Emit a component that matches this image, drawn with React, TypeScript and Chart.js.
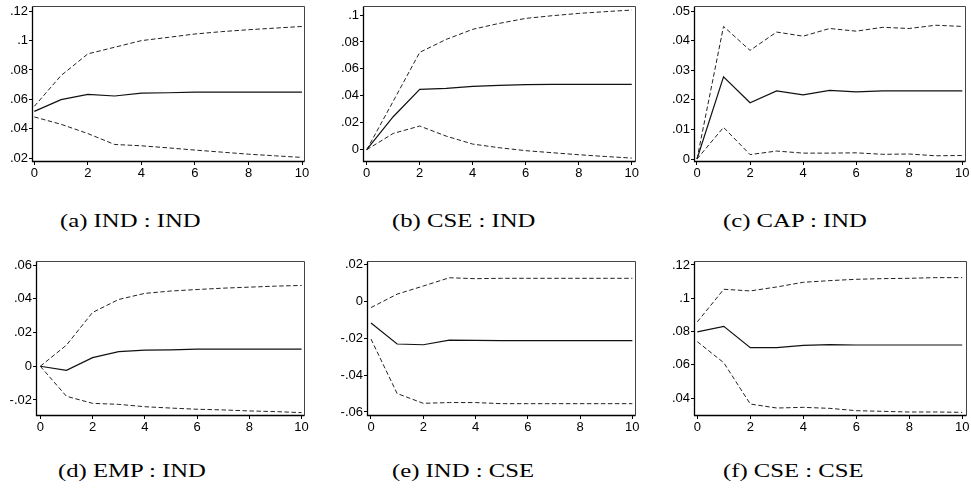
import React, { useEffect, useRef } from "react";
import { Chart, registerables } from "chart.js";

Chart.register(...registerables);

// ---------- data ----------
const horizons = [0, 1, 2, 3, 4, 5, 6, 7, 8, 9, 10];
const xTicks = [0, 2, 4, 6, 8, 10];
const xLabels = ["0", "2", "4", "6", "8", "10"];

// (a) IND : IND
const indIndIrf = [0.0519, 0.0598, 0.0634, 0.0623, 0.0643, 0.0645, 0.0649, 0.065, 0.065, 0.065, 0.065];
const indIndLower = [0.0481, 0.0431, 0.0368, 0.0294, 0.0285, 0.0271, 0.0256, 0.0242, 0.0228, 0.0217, 0.0206];
const indIndUpper = [0.0553, 0.0762, 0.0909, 0.0954, 0.0999, 0.1021, 0.1044, 0.106, 0.1073, 0.1084, 0.1095];
const indIndYTicks = [0.02, 0.04, 0.06, 0.08, 0.1, 0.12];
const indIndYLabels = [".02", ".04", ".06", ".08", ".1", ".12"];

// (b) CSE : IND
const cseIndIrf = [0, 0.0245, 0.0448, 0.0455, 0.047, 0.0478, 0.0483, 0.0485, 0.0485, 0.0485, 0.0485];
const cseIndLower = [0, 0.0121, 0.0176, 0.0101, 0.0042, 0.0015, -0.0007, -0.0022, -0.0037, -0.005, -0.0062];
const cseIndUpper = [0, 0.036, 0.0723, 0.0819, 0.0894, 0.0938, 0.0975, 0.0995, 0.1012, 0.1025, 0.1037];
const cseIndYTicks = [0, 0.02, 0.04, 0.06, 0.08, 0.1];
const cseIndYLabels = ["0", ".02", ".04", ".06", ".08", ".1"];

// (c) CAP : IND
const capIndIrf = [0, 0.0278, 0.019, 0.023, 0.0217, 0.0232, 0.0227, 0.023, 0.023, 0.023, 0.023];
const capIndLower = [0, 0.0107, 0.0015, 0.0027, 0.002, 0.002, 0.0021, 0.0016, 0.0017, 0.0011, 0.0012];
const capIndUpper = [0, 0.0448, 0.0367, 0.0429, 0.0415, 0.0441, 0.0432, 0.0445, 0.0441, 0.0452, 0.0448];
const capIndYTicks = [0, 0.01, 0.02, 0.03, 0.04, 0.05];
const capIndYLabels = ["0", ".01", ".02", ".03", ".04", ".05"];

// (d) EMP : IND
const empIndIrf = [0, -0.0024, 0.0051, 0.0087, 0.0095, 0.0097, 0.0101, 0.0101, 0.0101, 0.0101, 0.0101];
const empIndLower = [0, -0.0178, -0.022, -0.0226, -0.024, -0.0248, -0.0255, -0.0259, -0.0265, -0.0269, -0.0275];
const empIndUpper = [0, 0.0125, 0.0319, 0.0396, 0.0432, 0.0446, 0.0455, 0.0463, 0.0469, 0.0475, 0.0479];
const empIndYTicks = [-0.02, 0, 0.02, 0.04, 0.06];
const empIndYLabels = ["-.02", "0", ".02", ".04", ".06"];

// (e) IND : CSE
const indCseIrf = [-0.0117, -0.0231, -0.0235, -0.021, -0.0211, -0.0213, -0.0213, -0.0213, -0.0213, -0.0213, -0.0213];
const indCseLower = [-0.0204, -0.05, -0.0553, -0.0549, -0.0549, -0.0555, -0.0555, -0.0555, -0.0555, -0.0555, -0.0555];
const indCseUpper = [-0.0033, 0.004, 0.0084, 0.0129, 0.0124, 0.0126, 0.0126, 0.0126, 0.0126, 0.0126, 0.0126];
const indCseYTicks = [-0.06, -0.04, -0.02, 0, 0.02];
const indCseYLabels = ["-.06", "-.04", "-.02", "0", ".02"];

// (f) CSE : CSE
const cseCseIrf = [0.0798, 0.0831, 0.0703, 0.0703, 0.0717, 0.0721, 0.0719, 0.0719, 0.0719, 0.0719, 0.0719];
const cseCseLower = [0.0739, 0.0612, 0.0364, 0.034, 0.0344, 0.0338, 0.0324, 0.032, 0.0316, 0.0316, 0.0314];
const cseCseUpper = [0.0858, 0.1054, 0.1044, 0.1068, 0.1096, 0.1106, 0.1114, 0.1118, 0.112, 0.1124, 0.1124];
const cseCseYTicks = [0.04, 0.06, 0.08, 0.1, 0.12];
const cseCseYLabels = [".04", ".06", ".08", ".1", ".12"];

const captions = ["(a) IND : IND", "(b) CSE : IND", "(c) CAP : IND", "(d) EMP : IND", "(e) IND : CSE", "(f) CSE : CSE"];

// ---------- layout ----------
const PADL = 44; // y-axis width
const PADT = 10;
const PADR = 14;
const PADB = 24; // x-axis height

type PanelSpec = {
  caption: string;
  irf: number[];
  lower: number[];
  upper: number[];
  yTicks: number[];
  yLabels: string[];
  yMin: number;
  yMax: number;
  xMin: number;
  xMax: number;
  rect: { left: number; top: number; right: number; bottom: number };
  capX: number;
  capY: number;
};

const panels: PanelSpec[] = [
  { caption: captions[0], irf: indIndIrf, lower: indIndLower, upper: indIndUpper, yTicks: indIndYTicks, yLabels: indIndYLabels,
    yMin: 0.0175, yMax: 0.1234, xMin: -0.086, xMax: 10.11, rect: { left: 32, top: 6, right: 305, bottom: 162 }, capX: 60, capY: 211 },
  { caption: captions[1], irf: cseIndIrf, lower: cseIndLower, upper: cseIndUpper, yTicks: cseIndYTicks, yLabels: cseIndYLabels,
    yMin: -0.0091, yMax: 0.1067, xMin: -0.14, xMax: 10.16, rect: { left: 363, top: 6, right: 636, bottom: 162 }, capX: 392, capY: 211 },
  { caption: captions[2], irf: capIndIrf, lower: capIndLower, upper: capIndUpper, yTicks: capIndYTicks, yLabels: capIndYLabels,
    yMin: -0.001, yMax: 0.0517, xMin: -0.113, xMax: 10.14, rect: { left: 694, top: 6, right: 966, bottom: 162 }, capX: 723, capY: 211 },
  { caption: captions[3], irf: empIndIrf, lower: empIndLower, upper: empIndUpper, yTicks: empIndYTicks, yLabels: empIndYLabels,
    yMin: -0.0295, yMax: 0.0624, xMin: -0.165, xMax: 10.13, rect: { left: 36, top: 261, right: 305, bottom: 416 }, capX: 58, capY: 461 },
  { caption: captions[4], irf: indCseIrf, lower: indCseLower, upper: indCseUpper, yTicks: indCseYTicks, yLabels: indCseYLabels,
    yMin: -0.0622, yMax: 0.022, xMin: -0.153, xMax: 10.14, rect: { left: 367, top: 261, right: 636, bottom: 416 }, capX: 392, capY: 461 },
  { caption: captions[5], irf: cseCseIrf, lower: cseCseLower, upper: cseCseUpper, yTicks: cseCseYTicks, yLabels: cseCseYLabels,
    yMin: 0.0292, yMax: 0.1224, xMin: -0.125, xMax: 10.18, rect: { left: 694, top: 261, right: 967, bottom: 416 }, capX: 723, capY: 461 },
];

const framePlugin = {
  id: "frame",
  afterDatasetsDraw(chart: any) {
    const { ctx, chartArea: a } = chart;
    const l = Math.round(a.left) + 0.5;
    const r = Math.round(a.right) - 0.5;
    const t = Math.round(a.top) + 0.5;
    const b = Math.round(a.bottom) - 0.5;
    ctx.save();
    ctx.lineWidth = 1;
    ctx.strokeStyle = "#444";
    ctx.beginPath();
    ctx.moveTo(l, t);
    ctx.lineTo(r, t);
    ctx.lineTo(r, b);
    ctx.stroke();
    ctx.strokeStyle = "#000";
    ctx.lineWidth = 1.3;
    ctx.beginPath();
    ctx.moveTo(l, t);
    ctx.lineTo(l, b);
    ctx.lineTo(r, b);
    ctx.stroke();
    ctx.restore();
  },
};

const tickFont = { family: "'Liberation Sans', Arial, sans-serif", size: 13 };

function Panel({ p }: { p: PanelSpec }) {
  const ref = useRef<HTMLCanvasElement>(null);
  const w = p.rect.right - p.rect.left + PADL + PADR;
  const h = p.rect.bottom - p.rect.top + PADT + PADB;

  useEffect(() => {
    if (!ref.current) return;
    const mk = (arr: number[]) => horizons.map((x, i) => ({ x, y: arr[i] }));
    const chart = new Chart(ref.current, {
      type: "line",
      data: {
        datasets: [
          { data: mk(p.upper), borderColor: "#222", borderWidth: 1, borderDash: [4.5, 2.5], pointRadius: 0, tension: 0 },
          { data: mk(p.lower), borderColor: "#222", borderWidth: 1, borderDash: [4.5, 2.5], pointRadius: 0, tension: 0 },
          { data: mk(p.irf), borderColor: "#111", borderWidth: 1.2, pointRadius: 0, tension: 0 },
        ],
      },
      options: {
        animation: false,
        responsive: false,
        devicePixelRatio: 1,
        layout: { padding: { top: PADT, right: PADR, left: 0, bottom: 0 } },
        plugins: { legend: { display: false }, tooltip: { enabled: false } },
        scales: {
          x: {
            type: "linear",
            min: p.xMin,
            max: p.xMax,
            afterBuildTicks: (s: any) => {
              s.ticks = xTicks.map((v) => ({ value: v }));
            },
            afterFit: (s: any) => {
              s.height = PADB;
              s.paddingLeft = 0;
              s.paddingRight = 0;
            },
            grid: { display: true, drawOnChartArea: false, drawTicks: true, tickLength: 3, color: "#000", lineWidth: 1 },
            border: { display: false },
            ticks: {
              font: tickFont,
              color: "#000",
              padding: 1,
              maxRotation: 0,
              autoSkip: false,
              callback: (_v: any, i: number) => xLabels[i],
            },
          },
          y: {
            type: "linear",
            min: p.yMin,
            max: p.yMax,
            afterBuildTicks: (s: any) => {
              s.ticks = p.yTicks.map((v) => ({ value: v }));
            },
            afterFit: (s: any) => {
              s.width = PADL;
              s.paddingTop = 0;
              s.paddingBottom = 0;
            },
            grid: { display: true, drawOnChartArea: false, drawTicks: true, tickLength: 3, color: "#000", lineWidth: 1 },
            border: { display: false },
            ticks: {
              font: tickFont,
              color: "#000",
              padding: 1,
              autoSkip: false,
              callback: (_v: any, i: number) => p.yLabels[i],
            },
          },
        },
      } as any,
      plugins: [framePlugin],
    });
    return () => chart.destroy();
  }, [p]);

  return (
    <>
      <canvas
        ref={ref}
        width={w}
        height={h}
        style={{ position: "absolute", left: p.rect.left - PADL, top: p.rect.top - PADT, width: w, height: h }}
      />
      <div
        style={{
          position: "absolute",
          left: p.capX,
          top: p.capY,
          fontFamily: "'Liberation Serif', 'Times New Roman', serif",
          fontSize: 19,
          lineHeight: "20px",
          whiteSpace: "nowrap",
          color: "#000",
          transform: "scaleX(1.3)",
          transformOrigin: "left top",
        }}
      >
        {p.caption}
      </div>
    </>
  );
}

export default function App() {
  return (
    <div
      style={{
        position: "absolute",
        left: 0,
        top: 0,
        width: 971,
        height: 490,
        overflow: "hidden",
        background: "#fff",
      }}
    >
      {panels.map((p, i) => (
        <Panel key={i} p={p} />
      ))}
    </div>
  );
}
